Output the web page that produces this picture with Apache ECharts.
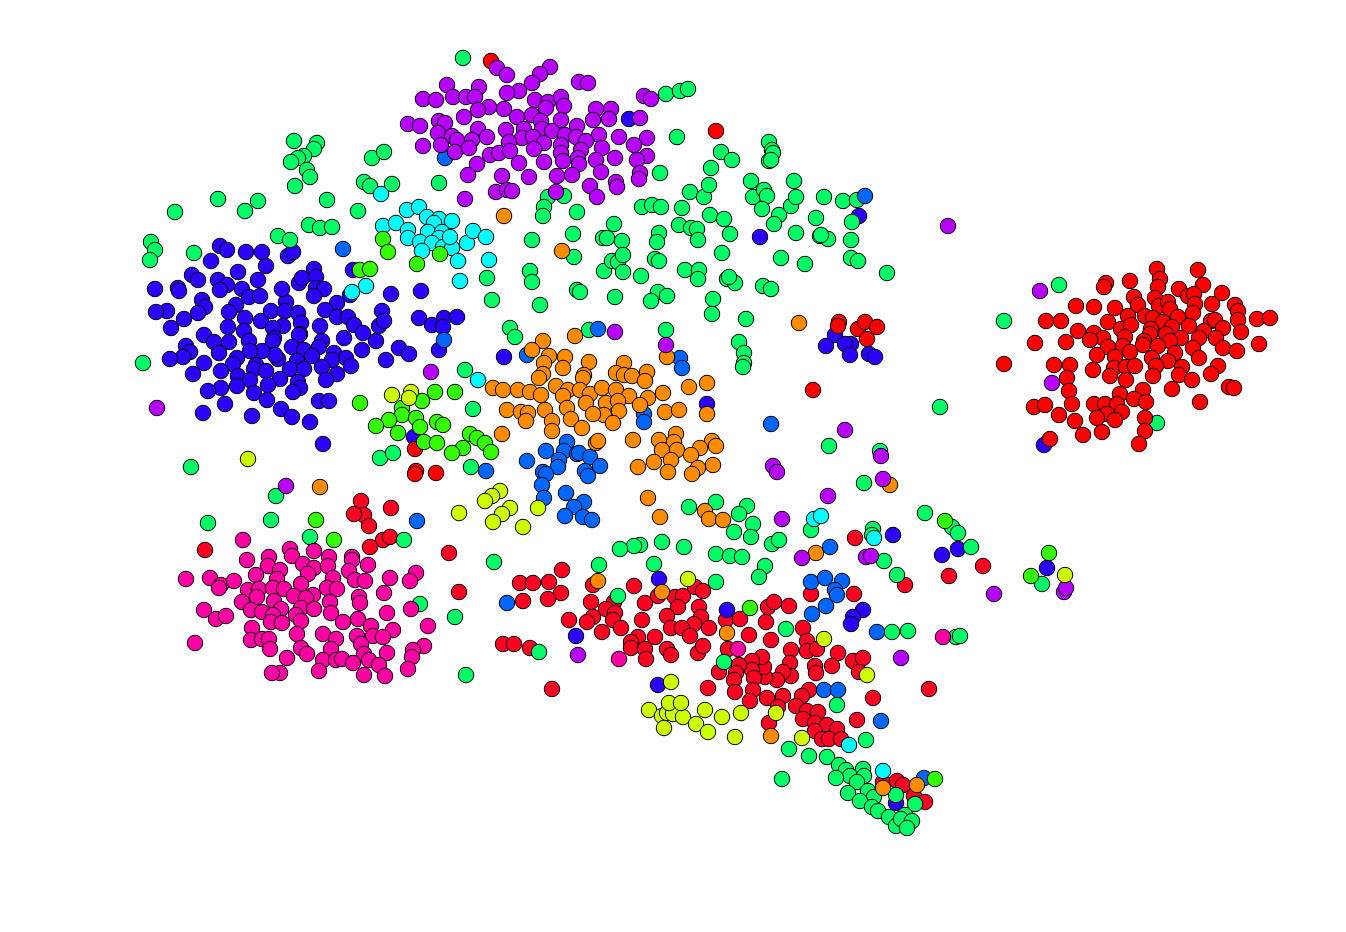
<!DOCTYPE html>
<html>
<head>
<meta charset="utf-8">
<title>t-SNE scatter</title>
<script src="https://cdn.jsdelivr.net/npm/echarts@6/dist/echarts.min.js"></script>
<style>
  html, body { margin: 0; padding: 0; background: #fff; }
  #chart { width: 1346px; height: 932px; }
</style>
</head>
<body>
<div id="chart"></div>
<script>
// points, one list per colour
const crimsonPts = [[361,501],[364,515],[354,514],[391,508],[369,526],[383,540],[390,537],[370,547],[205,550],[449,553],[459,592],
[562,570],[561,593],[593,585],[634,586],[591,602],[614,602],[606,609],[615,613],[593,617],[587,622],[613,620],[602,632],[621,628],[569,620],[645,603],[642,620],[658,596],[675,597],[683,596],[678,607],[695,587],[703,591],[699,607],[667,616],[701,617],[694,624],[671,628],[682,628],[690,636],[709,628],[655,637],[638,637],[631,642],[631,648],[645,649],[646,659],[667,649],[671,655],[698,653],[703,646],[726,620],[740,619],[749,635],[766,622],[768,607],[774,602],[789,606],[771,640],[803,628],[807,641],[791,650],[807,651],[817,649],[838,653],[790,663],[832,666],[853,661],[863,658],[859,672],[815,666],[816,673],[791,676],[783,672],[777,680],[765,677],[764,667],[762,657],[752,661],[752,670],[739,665],[728,649],[719,672],[736,673],[734,680],[754,678],[735,692],[753,690],[708,688],[750,701],[767,698],[783,696],[809,690],[802,696],[796,706],[807,711],[818,712],[803,719],[778,707],[769,723],[815,723],[827,725],[837,729],[815,731],[822,739],[829,739],[841,739],[857,720],[873,698],[854,594],[811,594],
[520,583],[533,583],[549,582],[548,599],[523,601],[503,644],[514,644],[530,648],[552,689],[929,689],[983,566],[949,576],[905,585],[855,538],[883,782],[897,781],[903,785],[914,796],[925,802]];

const bluePts = [[220,246],[227,250],[246,252],[262,252],[211,261],[266,266],[238,272],[192,275],[198,280],[218,280],[227,285],[258,280],[178,288],[179,291],[155,289],[220,290],[242,289],[249,297],[260,296],[202,300],[205,307],[236,305],[229,312],[198,313],[167,311],[156,312],[184,319],[171,328],[245,318],[228,327],[261,321],[271,311],[286,302],[285,311],[298,313],[282,289],[299,283],[302,278],[314,269],[316,277],[316,288],[324,289],[314,296],[337,303],[325,310],[337,317],[348,317],[354,325],[363,333],[376,341],[362,350],[344,338],[320,326],[301,323],[300,334],[283,326],[273,328],[244,331],[204,335],[214,342],[229,342],[249,341],[274,338],[273,341],[299,335],[322,341],[319,347],[292,347],[304,350],[312,356],[334,353],[346,358],[351,366],[332,360],[322,367],[337,374],[326,380],[297,361],[290,369],[304,369],[278,359],[275,355],[262,351],[250,351],[237,358],[233,364],[256,365],[254,369],[266,371],[221,371],[204,363],[219,353],[186,346],[190,352],[183,357],[170,359],[193,374],[238,376],[250,380],[280,379],[298,382],[300,388],[293,392],[268,385],[254,393],[237,386],[221,388],[208,391],[267,400],[225,404],[203,413],[252,416],[281,409],[292,417],[310,422],[319,401],[329,401],[323,444],[386,360],[399,348],[409,354],[382,311],[379,326],[384,321],[391,294],[421,291],[419,318],[432,325],[444,318],[457,317],[443,327],[439,350],[353,270],[350,295],[288,256],[293,252],[414,437],
[629,119],[760,237],[707,404],[835,335],[826,346],[851,344],[845,344],[850,355],[869,354],[875,357],[727,610],[659,579],[576,636],[658,685],[863,610],[853,617],[851,624],[893,535],[942,555],[958,549],[1047,568],[1044,445],[859,216],[896,803],[504,357]];

const springPts = [[463,58],[666,94],[680,91],[688,89],[677,137],[660,173],[294,141],[317,143],[314,149],[304,156],[298,158],[291,162],[307,170],[310,177],[295,186],[372,158],[384,152],[364,182],[370,186],[392,184],[439,183],[327,200],[218,199],[245,211],[258,201],[175,212],[358,211],[309,225],[320,228],[332,227],[278,236],[290,240],[151,242],[155,250],[150,260],[194,253],[143,363],[548,197],[564,196],[544,207],[543,216],[577,212],[532,240],[573,234],[603,238],[607,238],[622,241],[614,224],[642,207],[652,205],[661,207],[682,208],[690,192],[704,197],[709,185],[711,168],[721,152],[732,160],[769,142],[772,150],[773,153],[769,161],[771,160],[751,181],[753,197],[764,190],[767,196],[762,209],[779,215],[774,224],[791,206],[794,181],[796,197],[816,218],[824,197],[843,201],[857,200],[852,222],[851,240],[851,258],[858,261],[887,273],[710,215],[724,219],[730,234],[679,225],[691,228],[697,229],[698,240],[659,233],[657,242],[655,259],[659,261],[574,257],[604,271],[612,261],[618,262],[623,255],[623,272],[641,276],[530,271],[532,282],[487,278],[492,300],[540,305],[577,290],[580,292],[615,297],[658,292],[651,301],[667,296],[685,270],[699,270],[698,279],[722,253],[727,279],[735,283],[729,277],[713,299],[712,314],[763,286],[771,289],[781,258],[805,264],[796,233],[820,236],[828,239],[821,235],[746,319],[739,342],[744,353],[744,363],[743,367],[510,328],[515,337],[589,330],[666,330],[465,370],[473,409],[471,467],[191,467],[276,496],[208,523],[271,520],[310,537],[404,540],[380,458],[393,453],[940,407],[829,446],[880,451],[864,483],[1004,321],[1059,285],[1157,423],[925,513],[952,527],[958,533],[971,547],[873,529],[872,535],[884,561],[897,575],[908,631],[892,632],[786,629],[956,637],[960,636],[1042,584],[689,507],[716,502],[747,506],[739,514],[753,524],[734,532],[751,537],[811,530],[772,544],[779,540],[716,554],[730,556],[742,557],[684,547],[662,542],[640,545],[634,546],[620,549],[599,565],[654,564],[765,566],[759,577],[716,582],[618,596],[494,562],[420,604],[455,617],[466,675],[539,652],[724,662],[837,705],[866,740],
[789,749],[809,756],[827,757],[839,765],[846,770],[863,769],[850,776],[864,776],[836,778],[857,782],[868,791],[848,793],[874,797],[860,801],[872,807],[878,811],[896,795],[915,804],[889,817],[905,815],[896,826],[901,819],[912,821],[907,828],[782,779]];

const pinkPts = [[243,540],[290,549],[292,556],[314,551],[269,557],[247,560],[268,566],[280,570],[303,564],[314,568],[329,557],[328,566],[352,557],[352,560],[349,571],[368,565],[256,575],[308,574],[277,579],[333,578],[355,580],[365,581],[390,578],[416,573],[410,581],[186,579],[210,578],[221,585],[219,588],[234,581],[301,584],[248,590],[259,589],[273,588],[284,589],[327,588],[337,589],[313,595],[384,593],[294,596],[306,598],[257,597],[242,602],[274,601],[330,602],[359,597],[360,603],[204,610],[411,609],[387,613],[301,608],[314,609],[251,610],[262,612],[281,609],[331,613],[273,615],[216,619],[226,616],[296,615],[301,621],[271,622],[282,623],[358,619],[343,622],[371,626],[428,626],[252,628],[393,630],[297,634],[323,634],[357,636],[336,639],[373,636],[383,637],[251,640],[262,639],[269,639],[361,644],[270,649],[301,648],[307,654],[331,649],[424,646],[413,650],[195,643],[364,654],[387,653],[412,657],[287,658],[323,660],[336,660],[342,659],[353,663],[369,660],[379,665],[408,669],[280,673],[272,673],[319,671],[364,675],[385,676],
[619,659],[738,649],[943,637]];

const redPts = [[1157,269],[1198,270],[1160,279],[1106,283],[1104,287],[1130,281],[1158,287],[1203,285],[1179,289],[1188,296],[1194,294],[1222,293],[1134,297],[1155,298],[1076,306],[1094,307],[1115,308],[1138,305],[1159,306],[1168,302],[1195,304],[1212,304],[1235,305],[1238,311],[1128,316],[1145,316],[1170,309],[1193,313],[1178,317],[1153,318],[1257,319],[1270,318],[1238,320],[1046,321],[1061,321],[1108,322],[1163,322],[1211,321],[1215,320],[1189,326],[1121,329],[1131,325],[1172,327],[1078,331],[1094,333],[1103,338],[1151,329],[1223,328],[1241,332],[1204,331],[1150,334],[1166,334],[1090,340],[1125,337],[1216,338],[1199,338],[1181,338],[1035,343],[1066,342],[1144,341],[1143,345],[1170,341],[1259,344],[1108,347],[1123,346],[1158,346],[1193,348],[1223,348],[1237,351],[1130,352],[1175,353],[1097,355],[1115,357],[1152,358],[1168,361],[1199,358],[1004,364],[1054,365],[1070,365],[1093,370],[1114,368],[1126,367],[1135,366],[1156,366],[1182,367],[1218,366],[1211,374],[1110,376],[1153,376],[1179,375],[1067,378],[1126,380],[1192,380],[1069,391],[1172,389],[1229,387],[1234,388],[1143,390],[1120,394],[1134,399],[1146,402],[1072,404],[1094,404],[1105,404],[1117,404],[1034,407],[1045,405],[1200,402],[1122,412],[1107,414],[1059,415],[1097,418],[1145,418],[1115,420],[1075,421],[1145,431],[1102,432],[1083,435],[1050,439],[1139,444],
[491,61],[716,131],[813,390],[415,449],[416,471],[415,474],[436,473],[839,322],[838,326],[858,329],[865,322],[877,327],[867,339]];

const azurePts = [[527,355],[680,358],[682,368],[644,414],[644,422],[567,442],[546,451],[564,451],[577,454],[579,453],[590,457],[600,466],[585,471],[588,476],[559,460],[558,467],[527,461],[486,471],[543,472],[546,474],[542,485],[544,498],[566,493],[584,502],[574,507],[565,516],[583,517],[592,520],
[343,249],[445,158],[865,196],[598,329],[771,424],[417,521],[507,603],[444,340],[830,547],[811,582],[825,578],[842,581],[835,590],[837,595],[826,606],[812,614],[877,632],[824,690],[838,690],[881,721],[924,778]];

const orangePts = [[543,341],[575,336],[532,350],[549,356],[565,357],[544,363],[563,368],[589,362],[624,363],[616,373],[624,375],[632,376],[647,372],[645,381],[667,357],[543,374],[539,378],[584,375],[583,378],[493,388],[503,390],[518,390],[530,392],[541,395],[556,386],[568,390],[563,396],[580,390],[590,394],[602,388],[616,390],[629,396],[648,398],[663,393],[689,387],[707,383],[640,405],[586,403],[606,403],[618,401],[619,411],[604,415],[593,414],[613,423],[567,408],[571,419],[582,428],[545,410],[552,421],[552,431],[507,410],[521,412],[528,413],[526,421],[665,412],[679,410],[707,414],[502,434],[596,443],[598,441],[633,440],[659,440],[676,434],[674,442],[662,450],[677,450],[712,441],[716,446],[700,448],[691,455],[713,465],[654,462],[671,460],[638,467],[668,472],[698,468],[692,474],[648,498],[660,517],[705,511],[709,519],[723,520],
[504,216],[562,251],[799,323],[320,487],[890,485],[598,581],[662,592],[727,633],[771,736],[816,553],[883,788],[917,785]];

const purplePts = [[497,68],[507,75],[550,67],[540,74],[532,83],[579,82],[588,83],[447,85],[479,87],[519,91],[507,93],[423,99],[436,100],[453,97],[466,97],[475,97],[535,100],[548,102],[561,97],[564,106],[546,108],[644,96],[651,99],[489,107],[478,110],[504,109],[596,109],[611,109],[517,117],[532,115],[464,117],[593,120],[609,119],[640,118],[561,120],[541,121],[408,124],[420,126],[439,121],[445,123],[478,129],[506,130],[524,129],[542,129],[552,131],[577,126],[438,133],[452,136],[457,140],[472,140],[487,137],[522,138],[533,137],[565,135],[576,137],[599,135],[619,137],[647,138],[586,141],[423,146],[441,145],[509,142],[544,143],[561,145],[602,148],[634,145],[455,152],[469,148],[490,155],[499,153],[510,151],[534,149],[581,150],[561,153],[647,156],[615,158],[596,160],[637,160],[578,158],[563,161],[579,164],[477,164],[519,163],[544,162],[601,172],[640,173],[639,179],[468,175],[502,176],[529,177],[557,176],[572,175],[590,186],[616,182],[617,187],[597,197],[496,192],[507,190],[512,191],[556,192],[465,199],
[948,226],[1040,291],[1052,383],[615,332],[666,345],[431,372],[157,408],[286,486],[773,466],[777,472],[828,496],[845,430],[881,456],[883,479],[782,519],[802,558],[866,557],[871,556],[994,594],[1064,592],[1066,588],[901,658],[578,655]];

const cyanPts = [[381,194],[407,210],[419,207],[427,217],[439,219],[452,221],[383,226],[396,223],[408,230],[408,238],[434,223],[428,232],[442,232],[439,238],[420,242],[432,243],[443,247],[452,248],[422,251],[458,261],[460,281],[366,286],[352,292],[450,237],[467,243],[473,231],[486,237],[489,260],[478,380],[874,538],[814,519],[821,516],[849,745],[883,771]];

const lawnPts = [[360,270],[370,269],[383,239],[388,252],[417,264],[440,254],[360,403],[435,392],[455,392],[422,401],[402,408],[402,415],[389,420],[416,418],[376,426],[420,427],[437,422],[443,425],[398,433],[424,442],[437,443],[463,448],[452,453],[470,434],[477,438],[485,443],[491,452],[316,520],[334,540],[750,608],[945,521],[1031,576],[1049,553],[935,779]];

const limePts = [[392,395],[411,392],[409,398],[248,459],[459,513],[500,491],[492,496],[485,501],[510,508],[502,514],[493,522],[538,508],[523,527],[688,579],[824,639],[867,675],[671,682],[649,710],[662,716],[667,713],[673,714],[683,717],[669,703],[681,703],[664,728],[705,710],[722,717],[696,724],[708,732],[741,713],[735,737],[776,713],[802,738],[1065,575]];

// drawing order matters, later lists sit on top
const groups = [
  { name: 'crimson', pts: crimsonPts, color: '#ff0022' },
  { name: 'blue', pts: bluePts, color: '#2a00ff' },
  { name: 'spring', pts: springPts, color: '#00ff66' },
  { name: 'pink', pts: pinkPts, color: '#ff00a2' },
  { name: 'red', pts: redPts, color: '#ff0000' },
  { name: 'azure', pts: azurePts, color: '#0066ff' },
  { name: 'orange', pts: orangePts, color: '#ff8c00' },
  { name: 'purple', pts: purplePts, color: '#b800ff' },
  { name: 'cyan', pts: cyanPts, color: '#00ffff' },
  { name: 'lawn', pts: lawnPts, color: '#33ff00' },
  { name: 'lime', pts: limePts, color: '#ccff00' }
];

const myChart = echarts.init(document.getElementById('chart'));

const option = {
  animation: false,
  backgroundColor: '#fff',
  grid: { left: 0, right: 0, top: 0, bottom: 0 },
  xAxis: { type: 'value', min: 0, max: 1346, show: false },
  yAxis: { type: 'value', min: 0, max: 932, inverse: true, show: false },
  series: groups.map(g => ({
    name: g.name,
    type: 'scatter',
    data: g.pts,
    symbol: 'circle',
    symbolSize: 15.5,
    itemStyle: { color: g.color, borderColor: '#000', borderWidth: 1, opacity: 1 }
  }))
};

myChart.setOption(option);
</script>
</body>
</html>
